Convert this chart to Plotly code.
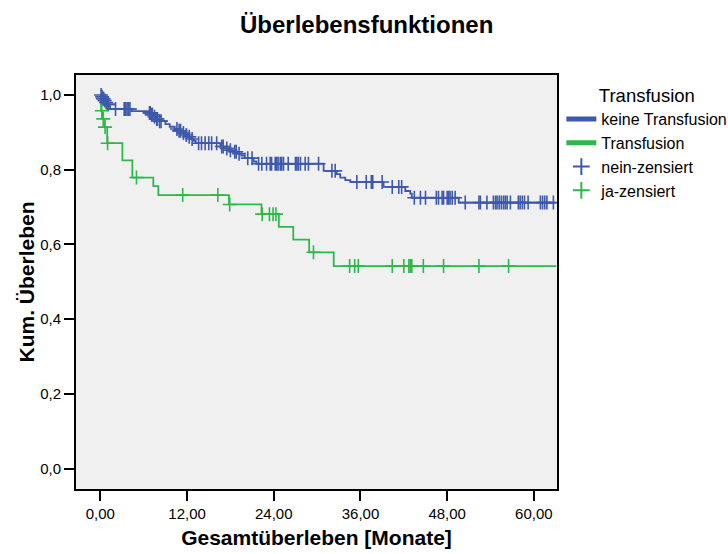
import numpy as np
import plotly.graph_objects as go

# Kaplan-Meier estimate, group "keine Transfusion"
keine_event_t = [0.15, 0.3, 0.5, 0.7, 0.9, 1.2, 1.35, 4.3, 6.7, 7.0, 7.3, 7.7, 8.1,
                 9.0, 9.6, 10.3, 10.8, 11.3, 11.7, 12.1, 12.5, 12.9, 13.2,
                 16.6, 17.2, 17.8, 18.4, 19.0, 19.5, 20.0, 21.2, 21.6, 30.9,
                 32.7, 33.2, 33.9, 34.6, 39.2, 42.2, 42.9, 43.1, 49.6]
keine_event_s = [0.995, 0.990, 0.985, 0.980, 0.975, 0.970, 0.9625, 0.957, 0.952, 0.947,
                 0.942, 0.936, 0.930, 0.922, 0.915, 0.909, 0.904, 0.898, 0.893, 0.888,
                 0.882, 0.877, 0.871, 0.862, 0.857, 0.852, 0.848, 0.843, 0.838, 0.831,
                 0.822, 0.816, 0.797, 0.788, 0.779, 0.772, 0.767, 0.754, 0.743, 0.736,
                 0.725, 0.712]
keine_censor_t = [0.1, 0.25, 0.35, 0.45, 0.6, 0.8, 1.0, 1.1, 2.1, 3.3, 3.5, 3.7, 3.9, 4.1,
                  6.8, 6.9, 7.1, 7.2, 7.5, 7.8, 7.9, 8.2, 8.4,
                  10.6, 10.9, 11.1, 11.5, 11.9, 12.3, 12.7, 13.6, 14.0, 14.5, 15.0, 15.4, 16.1,
                  16.8, 17.0, 17.5, 18.0, 18.6, 18.8, 19.2, 20.4, 21.0,
                  21.9, 22.35, 23.0, 23.5, 23.7, 24.2, 24.4, 24.6, 24.9, 25.1, 25.35, 26.0,
                  27.0, 27.2, 27.4, 27.7, 28.35, 28.8, 30.2, 32.05, 32.5,
                  35.5, 36.8, 37.5, 37.7, 39.0, 40.4, 41.3, 41.7,
                  43.45, 44.3, 45.0, 46.5, 46.8, 47.3, 47.5, 48.0, 48.2, 48.4, 48.7, 49.1,
                  50.5, 52.4, 52.6, 53.5, 54.4, 54.7, 54.9, 55.2, 55.5, 55.8, 56.05, 56.3,
                  56.75, 57.85, 58.1, 58.4, 58.7, 59.2, 60.9, 61.2, 61.5, 61.8, 62.7]
keine_end_t = 63.1

# Kaplan-Meier estimate, group "Transfusion"
tx_event_t = [0.1, 0.3, 0.5, 0.95, 3.05, 4.43, 7.33, 8.03, 17.8, 22.3, 24.7, 26.7, 28.9, 32.3]
tx_event_s = [0.958, 0.936, 0.914, 0.871, 0.825, 0.779, 0.756, 0.732, 0.707, 0.681,
              0.647, 0.613, 0.579, 0.542]
tx_censor_t = [0.2, 0.4, 0.65, 1.0, 5.0, 11.4, 16.26, 17.9, 22.4, 23.4, 23.9, 24.3, 29.5,
               34.5, 35.2, 35.7, 40.4, 42.0, 42.7, 42.9, 43.1, 44.7, 47.5, 52.4, 56.5]
tx_end_t = 63.1

x_ticks = [0, 12, 24, 36, 48, 60]
y_ticks = [0.0, 0.2, 0.4, 0.6, 0.8, 1.0]

BLUE = "#3E58AC"
GREEN = "#2EB848"


def step_path(event_t, event_s, end_t):
    x = [0.0] + list(event_t) + [end_t]
    y = [1.0] + list(event_s) + [event_s[-1]]
    return x, y


def surv_at(times, event_t, event_s):
    et = np.asarray(event_t)
    es = np.concatenate([[1.0], np.asarray(event_s)])
    idx = np.searchsorted(et, np.asarray(times), side="right")
    return es[idx]


fig = go.Figure()

for name, et, es, end, col in [
    ("keine Transfusion", keine_event_t, keine_event_s, keine_end_t, BLUE),
    ("Transfusion", tx_event_t, tx_event_s, tx_end_t, GREEN),
]:
    x, y = step_path(et, es, end)
    fig.add_trace(go.Scatter(x=x, y=y, mode="lines", name=name,
                             line=dict(color=col, width=1.8, shape="hv")))

for name, ct, et, es, col in [
    ("nein-zensiert", keine_censor_t, keine_event_t, keine_event_s, BLUE),
    ("ja-zensiert", tx_censor_t, tx_event_t, tx_event_s, GREEN),
]:
    fig.add_trace(go.Scatter(x=ct, y=surv_at(ct, et, es), mode="markers", name=name,
                             marker=dict(symbol="cross-thin", size=10, color=col,
                                         line=dict(color=col, width=1.6))))

axis_common = dict(ticks="outside", ticklen=10, tickwidth=2, tickcolor="black",
                   showline=True, linewidth=2, linecolor="black", mirror=True,
                   showgrid=False, zeroline=False, tickfont=dict(size=15, color="black"))

fig.update_layout(
    width=728, height=554,
    margin=dict(l=76, r=171, t=75, b=65, autoexpand=False),
    paper_bgcolor="white", plot_bgcolor="#F0F0F0",
    separators=",.",
    font=dict(family="Liberation Sans, Arial, sans-serif", color="black"),
    title=dict(text="Überlebensfunktionen", x=0.5037, xanchor="center",
               y=1 - 25 / 554, yanchor="middle",
               font=dict(size=24, weight="bold", color="black")),
    xaxis=dict(range=[-3.37, 63.2], tickvals=x_ticks, tickformat=".2f",
               title=dict(text="Gesamtüberleben [Monate]", standoff=9,
                          font=dict(size=21, weight="bold")),
               **axis_common),
    yaxis=dict(range=[-0.0546, 1.0535], tickvals=y_ticks, tickformat=".1f",
               title=dict(text="Kum. Überleben", standoff=0,
                          font=dict(size=21, weight="bold")),
               **axis_common),
    legend=dict(x=1.009, xanchor="left", y=0.9928, yanchor="top",
                title=dict(text="Transfusion", side="top center", font=dict(size=18.5)),
                font=dict(size=16), bgcolor="rgba(0,0,0,0)", itemsizing="constant",
                tracegroupgap=0),
)

fig.write_html("out.html")
